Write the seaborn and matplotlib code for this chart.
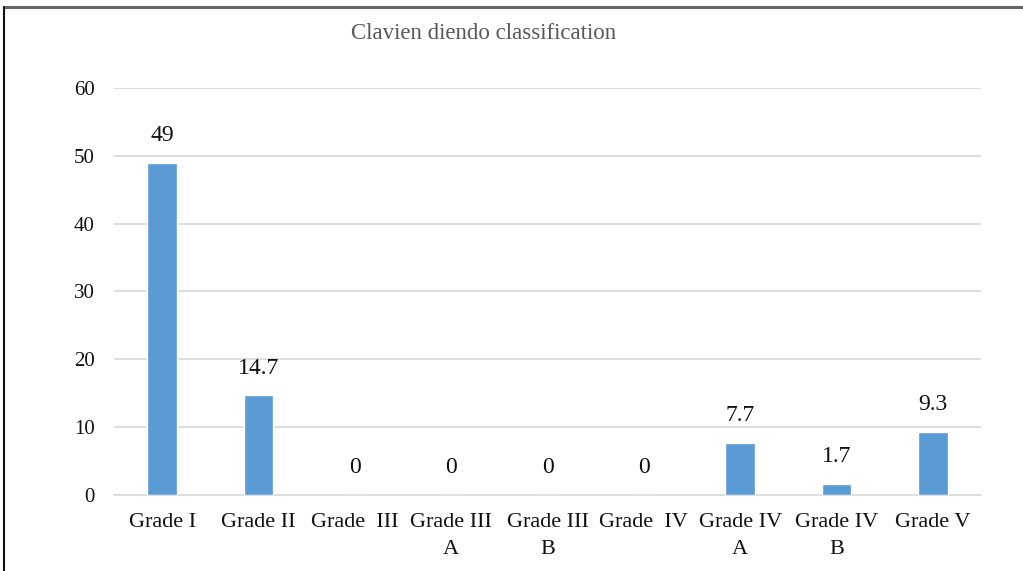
import matplotlib
matplotlib.use("Agg")
import matplotlib.pyplot as plt
import seaborn as sns
import pandas as pd

categories = ["Grade I", "Grade II", "Grade  III", "Grade III\nA", "Grade III\nB",
              "Grade  IV", "Grade IV\nA", "Grade IV\nB", "Grade V"]
values = [49, 14.7, 0, 0, 0, 0, 7.7, 1.7, 9.3]
value_labels = ["49", "14.7", "0", "0", "0", "0", "7.7", "1.7", "9.3"]
y_ticks = [0, 10, 20, 30, 40, 50, 60]
title = "Clavien diendo classification"

sns.set_theme(style="white")
plt.rcParams["font.family"] = ["Liberation Serif", "DejaVu Serif"]

df = pd.DataFrame({"grade": categories, "pct": values})

fig = plt.figure(figsize=(10.23, 5.71), dpi=100)
ax = fig.add_axes([0.1114, 0.133, 0.8476, 0.713])

sns.barplot(data=df, x="grade", y="pct", color="#5B9BD5", saturation=1,
            width=0.31, ax=ax, zorder=3)

ax.set_ylim(0, 60)
ax.set_yticks(y_ticks)
ax.set_yticklabels([str(t) for t in y_ticks], fontsize=15, color="#111111")
ax.yaxis.grid(True, color="#D9D9D9", linewidth=1.2, zorder=0)
ax.set_xlabel("")
ax.set_ylabel("")
ax.tick_params(axis="y", length=0, pad=14)
ax.tick_params(axis="x", length=0, pad=13, labelsize=16, colors="#111111")
for lbl in ax.get_xticklabels():
    lbl.set_linespacing(1.55)
for s in ["top", "right", "left"]:
    ax.spines[s].set_visible(False)
ax.spines["bottom"].set_color("#D9D9D9")
ax.spines["bottom"].set_linewidth(1.2)

ax.bar_label(ax.containers[0], labels=value_labels, padding=12,
             fontsize=17, color="#111111")

fig.text(0.473, 0.942, title, ha="center", va="center", fontsize=16.5,
         color="#595959")

# outer frame edges
fig.add_artist(plt.Line2D([0.0035, 1.0], [0.987, 0.987], color="#666666",
                          linewidth=2.2, transform=fig.transFigure))
fig.add_artist(plt.Line2D([0.0035, 0.0035], [0.0, 0.987], color="#111111",
                          linewidth=1.5, transform=fig.transFigure))

fig.savefig("out.png", dpi=100)
